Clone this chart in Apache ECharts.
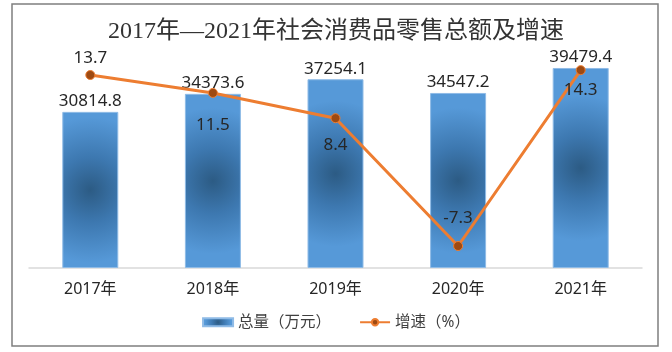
<!DOCTYPE html>
<html>
<head>
<meta charset="utf-8">
<script src="https://cdn.jsdelivr.net/npm/echarts@6/dist/echarts.min.js"></script>
<style>
  html, body { margin: 0; padding: 0; background: #fff; }
  #main { width: 672px; height: 352px; }
</style>
</head>
<body>
<div id="main"></div>
<script>
// 数据
var years = ['2017年', '2018年', '2019年', '2020年', '2021年'];
var totals = [30814.8, 34373.6, 37254.1, 34547.2, 39479.4];
var growth = [13.7, 11.5, 8.4, -7.3, 14.3];
// 增速标签位置（上/下）
var growthLabelPos = ['top', 'bottom', 'bottom', 'top', 'bottom'];
var growthLabelGap = [3, 19, 13, 14, 7];

var chart = echarts.init(document.getElementById('main'));

var barFill = new echarts.graphic.RadialGradient(0.5, 0.5, 1.3, [
    { offset: 0, color: '#2c5b84' },
    { offset: 0.45, color: '#3d78b0' },
    { offset: 1, color: '#5699d8' }
]);

var textFont = "'Noto Sans', 'Noto Sans CJK SC', sans-serif";

chart.setOption({
    backgroundColor: '#fff',
    animation: false,
    title: {
        text: '2017年—2021年社会消费品零售总额及增速',
        left: 'center',
        top: 15,
        textStyle: {
            fontFamily: "'Liberation Serif', 'Noto Sans CJK SC', serif",
            fontSize: 24,
            fontWeight: 'normal',
            color: '#333'
        }
    },
    graphic: [{
        type: 'rect',
        shape: { x: 12, y: 4, width: 646, height: 342 },
        style: { fill: 'none', stroke: '#7f7f7f', lineWidth: 1.5 },
        silent: true
    }],
    legend: {
        bottom: 17,
        left: 'center',
        itemGap: 28,
        itemWidth: 30,
        itemHeight: 8,
        textStyle: { fontFamily: textFont, fontSize: 15.5, color: '#404040' },
        data: [
            { name: '总量（万元）', icon: 'rect' },
            { name: '增速（%）' }
        ]
    },
    grid: { left: 29, right: 30, top: 40, bottom: 84 },
    xAxis: {
        type: 'category',
        data: years,
        axisLine: { lineStyle: { color: '#d9d9d9', width: 1.5 } },
        axisTick: { show: false },
        axisLabel: { fontFamily: textFont, fontSize: 16, color: '#262626', margin: 13 }
    },
    yAxis: [
        { type: 'value', min: 0, max: 45000, show: false, splitLine: { show: false } },
        { type: 'value', min: -10, max: 18, interval: 2, show: false, splitLine: { show: false } }
    ],
    series: [
        {
            name: '总量（万元）',
            type: 'bar',
            data: totals,
            barWidth: 56,
            itemStyle: { color: barFill, borderColor: '#8fbbe6', borderWidth: 1 },
            label: {
                show: true,
                position: 'top',
                distance: 2,
                fontFamily: textFont,
                fontSize: 17,
                color: '#262626'
            }
        },
        {
            name: '增速（%）',
            type: 'line',
            yAxisIndex: 1,
            data: growth.map(function (v, i) {
                return {
                    value: v,
                    label: { position: growthLabelPos[i], distance: growthLabelGap[i] }
                };
            }),
            symbol: 'circle',
            symbolSize: 9,
            lineStyle: { color: '#ed7d31', width: 3 },
            itemStyle: { color: '#9e4a12', borderColor: '#ed7d31', borderWidth: 1 },
            label: {
                show: true,
                fontFamily: textFont,
                fontSize: 17,
                color: '#262626'
            },
            z: 5
        }
    ]
});
</script>
</body>
</html>
